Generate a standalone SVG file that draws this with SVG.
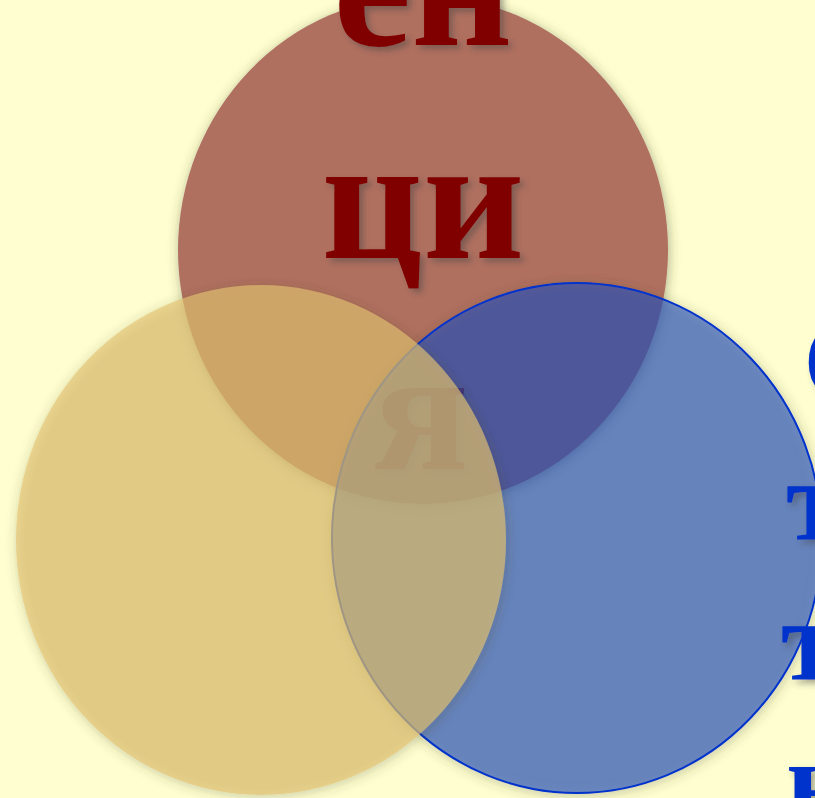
<svg xmlns="http://www.w3.org/2000/svg" width="815" height="798" viewBox="0 0 815 798">
<defs>
<filter id="cs" x="-20%" y="-20%" width="140%" height="140%">
<feDropShadow dx="1" dy="2" stdDeviation="6" flood-color="#404020" flood-opacity="0.4"/>
</filter>
<filter id="ts" x="-20%" y="-20%" width="140%" height="140%">
<feDropShadow dx="4" dy="4" stdDeviation="3" flood-color="#404040" flood-opacity="0.45"/>
</filter>
<style>
.red{font-family:"Liberation Serif","Times New Roman",serif;font-weight:bold;font-size:176px;fill:#800000;text-anchor:middle}
.blue{font-family:"Liberation Serif","Times New Roman",serif;font-weight:bold;font-size:117px;fill:#0033CC}
</style>
</defs>
<rect width="815" height="798" fill="#FEFED0"/>
<g id="circle-red" filter="url(#cs)">
<ellipse cx="423" cy="250" rx="245" ry="254" fill="#B07060"/>
</g>
<g id="text-red" filter="url(#ts)">
<text class="red" x="423" y="45">ен</text>
<text class="red" x="423" y="258">ци</text>
<text class="red" x="421" y="469">я</text>
</g>
<g id="circle-blue" filter="url(#cs)">
<ellipse cx="577" cy="538" rx="245" ry="255" fill="#1E4EBE" fill-opacity="0.6" stroke="#0033CC" stroke-width="2"/>
</g>
<g id="circle-yellow" filter="url(#cs)">
<ellipse cx="261" cy="540" rx="245" ry="255" fill="#E2C16E" fill-opacity="0.65"/>
</g>
<g id="text-blue" filter="url(#ts)">
<text class="blue" x="803" y="400">С</text>
<text class="blue" x="786" y="540">т</text>
<text class="blue" x="781" y="680">т</text>
<text class="blue" x="786" y="820">н</text>
</g>
</svg>
